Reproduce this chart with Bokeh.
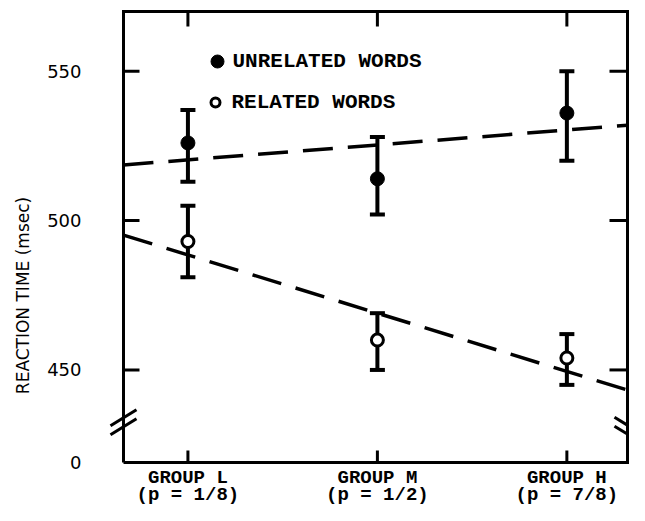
import numpy as np
from bokeh.plotting import figure
from bokeh.models import Range1d, Whisker, TeeHead, ColumnDataSource
from bokeh.core.properties import value
from bokeh.embed import file_html
from bokeh.resources import INLINE

# ---- data ----
groups = [1, 2, 3]
group_names = ["GROUP L", "GROUP M", "GROUP H"]
group_probs = ["(p = 1/8)", "(p = 1/2)", "(p = 7/8)"]
unrelated_rt = [526, 514, 536]
unrelated_low = [513, 502, 520]
unrelated_high = [537, 528, 550]
related_rt = [493, 460, 454]
related_low = [481, 450, 445]
related_high = [505, 469, 462]
y_ticks = [450, 500, 550]
y_tick_labels = ["450", "500", "550"]
y_bottom_label = "0"
legend_names = ["UNRELATED WORDS", "RELATED WORDS"]
y_title = "REACTION TIME (msec)"

# ---- layout (pixels on the canvas) ----
W, H = 629, 505
BOX_L, BOX_R, BOX_T, BOX_B = 123, 627, 11, 462
X0, X1 = 0.66, 3.32          # x extent of the box in data units
Y1 = 570                      # top of the box in data units
PX_X = (BOX_R - BOX_L) / (X1 - X0)
PX_Y = 2.987                  # pixels per msec
Y0 = Y1 - (BOX_B - BOX_T) / PX_Y
BREAK_Y = 431.5

def ydat(py):
    return Y1 - (py - BOX_T) / PX_Y

def xdat(px):
    return X0 + (px - BOX_L) / PX_X

xr = Range1d(xdat(0), xdat(W))
yr = Range1d(ydat(H), ydat(0))

p = figure(width=W, height=H, x_range=xr, y_range=yr,
           x_axis_type=None, y_axis_type=None,
           output_backend="svg", toolbar_location=None,
           min_border_left=0, min_border_right=0, min_border_top=0, min_border_bottom=0)
p.xgrid.visible = False
p.ygrid.visible = False
p.outline_line_color = None
p.background_fill_color = "white"
p.border_fill_color = "white"

mono = "Liberation Mono"
sans = "DejaVu Sans"

# box
p.line([X0, X1, X1, X0, X0], [Y0, Y0, Y1, Y1, Y0], line_color="black", line_width=3,
       line_join="miter")

# inward ticks
p.ray(x=X0, y=y_ticks, length=16, angle=0, length_units="screen",
      line_color="black", line_width=3)
p.ray(x=X1, y=y_ticks, length=18, angle=np.pi, length_units="screen",
      line_color="black", line_width=3)
p.ray(x=groups, y=Y1, length=15, angle=-np.pi / 2, length_units="screen",
      line_color="black", line_width=3)
p.ray(x=groups, y=Y0, length=12, angle=np.pi / 2, length_units="screen",
      line_color="black", line_width=3)

# y tick labels
p.text(x=xdat(BOX_L - 42), y=y_ticks + [Y0], text=y_tick_labels + [y_bottom_label],
       text_font=value(sans), text_font_size="18px", text_align="right",
       text_baseline="middle", text_color="black")

# y title
p.text(x=[xdat(22)], y=[ydat(295)], text=[y_title], angle=np.pi / 2,
       text_font=value(sans), text_font_size="17px", text_align="center",
       text_baseline="middle", text_color="black")

# x category labels
p.text(x=groups, y=ydat(477), text=group_names, text_font=value(mono),
       text_font_style="bold", text_font_size="19px", text_align="center",
       text_baseline="middle", text_color="black")
p.text(x=groups, y=ydat(494), text=group_probs, text_font=value(mono),
       text_font_style="bold", text_font_size="19px", text_align="center",
       text_baseline="middle", text_color="black")

# regression dashed lines
for ys in (unrelated_rt, related_rt):
    k, b = np.polyfit(groups, ys, 1)
    xs = [X0, X1]
    p.line(xs, [k * x + b for x in xs], line_color="black", line_width=3.5, line_dash="30 15")

# error bars
for lo, hi in ((unrelated_low, unrelated_high), (related_low, related_high)):
    src = ColumnDataSource(dict(x=groups, lower=lo, upper=hi))
    p.add_layout(Whisker(source=src, base="x", lower="lower", upper="upper",
                         line_width=4, line_color="black",
                         upper_head=TeeHead(size=15, line_width=4, line_color="black"),
                         lower_head=TeeHead(size=15, line_width=4, line_color="black")))

# markers
p.scatter(groups, unrelated_rt, size=14, fill_color="black", line_color="black")
p.scatter(groups, related_rt, size=12, fill_color="white", line_color="black", line_width=3)

# legend (drawn manually)
leg_y = [ydat(61), ydat(102)]
p.scatter([xdat(217)], [leg_y[0]], size=13, fill_color="black", line_color="black")
p.scatter([xdat(215)], [leg_y[1]], size=9, fill_color="white", line_color="black", line_width=3)
p.text(x=[xdat(232), xdat(231)], y=leg_y, text=legend_names, text_font=value(mono),
       text_font_style="bold", text_font_size="21px", text_baseline="middle",
       text_align="left", text_color="black")

# axis break marks
dx, dy = 13 / PX_X, 8 / PX_Y
for yc in (BREAK_Y + 2.5, BREAK_Y - 0.5):
    p.segment(x0=X0 - dx, y0=yc - dy, x1=X0 + dx, y1=yc + dy, line_width=3, line_color="black")
for yc in (BREAK_Y, BREAK_Y - 3):
    p.segment(x0=X1 - dx, y0=yc + dy, x1=X1 + dx, y1=yc - dy, line_width=3, line_color="black")

open("out.html", "w").write(file_html(p, INLINE))
